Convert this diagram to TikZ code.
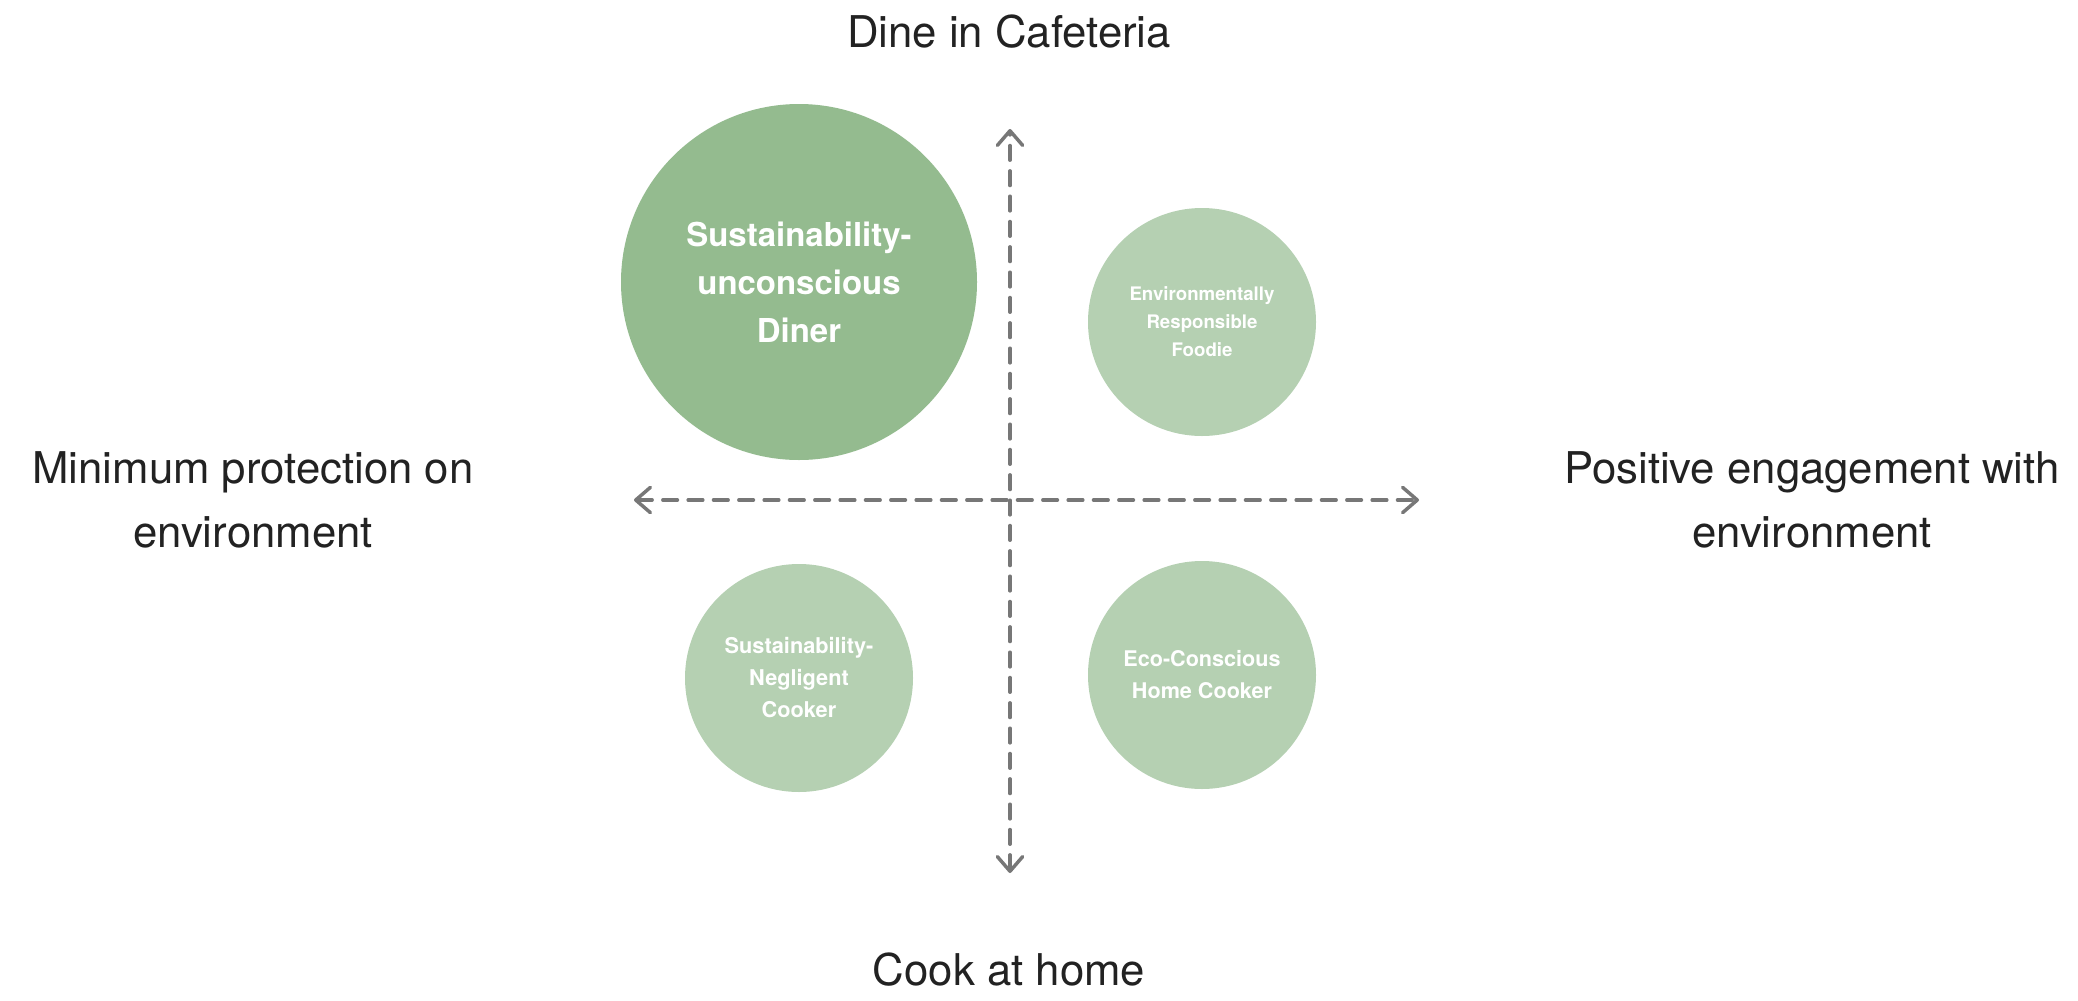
\documentclass[tikz,border=0pt]{standalone}
\usepackage{fontspec}
\setmainfont{TeX Gyre Heros}
\usetikzlibrary{arrows.meta}
\definecolor{darkgreen}{HTML}{94BB8F}
\definecolor{lightgreen}{HTML}{B5D0B2}
\definecolor{axisgray}{HTML}{777777}
\definecolor{txt}{HTML}{222222}
\begin{document}
\begin{tikzpicture}[x=0.75pt,y=-0.75pt,
  bigcirc/.style={circle,fill=darkgreen,minimum size=356*0.75pt,inner sep=0pt,text=white,font=\fontsize{24.7}{36}\selectfont\bfseries,align=center},
  smallcirc/.style={circle,fill=lightgreen,minimum size=228*0.75pt,inner sep=0pt,text=white,align=center},
  axislabel/.style={text=txt,font=\fontsize{32.8}{48}\selectfont,align=center},
  axis/.style={draw=axisgray,line width=2.6pt,dash pattern=on 11pt off 8pt,line cap=round,
    {Straight Barb[length=11pt,width=19pt,line cap=round,line join=round]}-{Straight Barb[length=11pt,width=19pt,line cap=round,line join=round]}}
]
\useasboundingbox (0,0) rectangle (2078,1000);
\fill[white] (0,0) rectangle (2078,1000);

\coordinate (top) at (1010,129);
\coordinate (bottom) at (1010,873);
\coordinate (left) at (634,500);
\coordinate (right) at (1419,500);

\node[bigcirc] (diner) at (799,282) {Sustainability-\\unconscious\\Diner};
\node[smallcirc,font=\fontsize{14}{21}\selectfont\bfseries] (foodie) at (1202,322) {Environmentally\\Responsible\\Foodie};
\node[smallcirc,font=\fontsize{16.3}{24}\selectfont\bfseries] (negligent) at (799,678) {Sustainability-\\Negligent\\Cooker};
\node[smallcirc,font=\fontsize{16.2}{24}\selectfont\bfseries] (eco) at (1202,675) {Eco-Conscious\\Home Cooker};

\draw[axis] (bottom) -- (top);
\draw[axis] (left) -- (right);

\node[axislabel] (dine) at (1009,32) {Dine in Cafeteria};
\node[axislabel] (cook) at (1009,970) {Cook at home};
\node[axislabel] (minprot) at (253,500) {Minimum protection on\\environment};
\node[axislabel] (posit) at (1812,500) {Positive engagement with\\environment};
\end{tikzpicture}
\end{document}
